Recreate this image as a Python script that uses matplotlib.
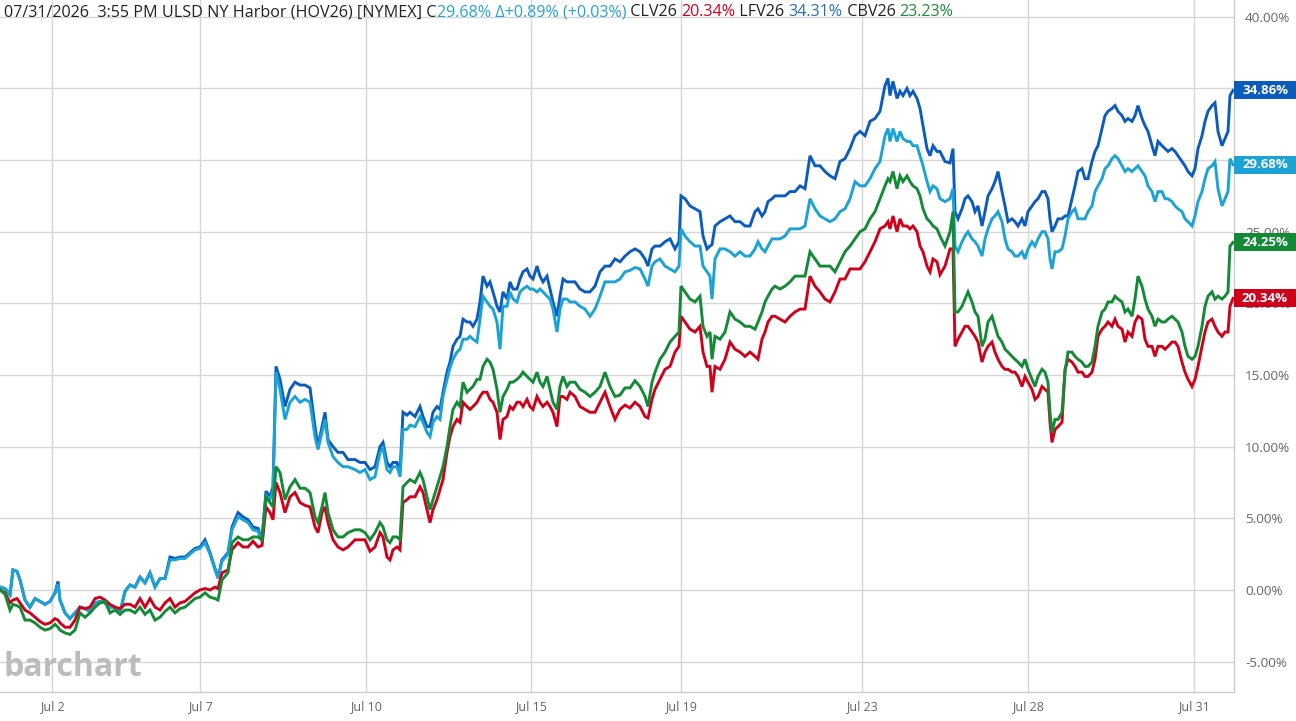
import matplotlib
matplotlib.use("Agg")
import matplotlib.pyplot as plt
from matplotlib.offsetbox import TextArea, HPacker, AnchoredOffsetbox
from matplotlib.patches import Rectangle

plt.rcParams['font.family'] = ['Open Sans', 'DejaVu Sans']

# intraday bar number (x) and percent change of each contract
bars = [
    0, 5, 10, 13, 17, 20, 25, 30, 35, 40,
    45, 50, 55, 58, 60, 65, 70, 75, 80, 85,
    90, 95, 100, 105, 110, 115, 120, 125, 130, 135,
    140, 145, 150, 155, 160, 165, 170, 175, 180, 185,
    190, 195, 200, 205, 210, 215, 218, 222, 228, 232,
    238, 243, 248, 253, 258, 262, 266, 270, 273, 276,
    280, 285, 290, 295, 300, 305, 310, 315, 318, 322,
    325, 328, 333, 338, 343, 348, 355, 360, 365, 370,
    375, 380, 383, 387, 390, 393, 397, 400, 403, 407,
    410, 415, 420, 423, 427, 430, 433, 437, 440, 443,
    447, 450, 453, 457, 460, 463, 467, 470, 473, 477,
    480, 483, 487, 490, 493, 497, 500, 503, 507, 510,
    513, 517, 520, 523, 527, 530, 533, 537, 540, 543,
    547, 550, 553, 557, 560, 563, 567, 570, 575, 580,
    585, 590, 595, 600, 605, 610, 615, 620, 625, 630,
    635, 640, 645, 648, 652, 655, 660, 665, 670, 675,
    679, 681, 685, 690, 695, 700, 703, 707, 710, 712,
    715, 720, 725, 730, 735, 740, 745, 750, 755, 758,
    762, 765, 768, 772, 775, 780, 785, 790, 795, 800,
    805, 810, 815, 820, 825, 830, 835, 840, 845, 850,
    855, 860, 865, 870, 875, 880, 885, 888, 890, 893,
    897, 900, 903, 907, 910, 913, 917, 920, 923, 927,
    930, 933, 937, 940, 945, 950, 953, 955, 958, 962,
    965, 968, 972, 975, 978, 982, 985, 988, 992, 995,
    998, 1002, 1005, 1008, 1012, 1015, 1018, 1022, 1025, 1028,
    1032, 1035, 1038, 1042, 1045, 1048, 1050, 1052, 1055, 1058,
    1062, 1065, 1068, 1072, 1075, 1078, 1082, 1085, 1088, 1092,
    1095, 1098, 1102, 1105, 1108, 1112, 1115, 1118, 1122, 1125,
    1128, 1132, 1135, 1138, 1142, 1145, 1148, 1152, 1155, 1158,
    1162, 1165, 1168, 1172, 1175, 1178, 1182, 1185, 1188, 1192,
    1195, 1198, 1202, 1205, 1208, 1212, 1215, 1218, 1222, 1225,
    1228, 1230, 1233,
]

lfv = [
    0.2, 0.1, -0.35, 1.4, 1.3, 0.7, -0.7, -1.2, -0.6, -0.8,
    -1.0, -0.8, -0.2, 0.6, -0.7, -1.6, -2.0, -1.6, -1.2, -1.3,
    -1.5, -0.9, -0.8, -0.9, -1.2, -1.2, -1.6, -0.1, 0.35, 0.2,
    0.9, 0.5, 1.2, 0.2, 0.8, 0.8, 2.3, 2.2, 2.3, 2.3,
    2.6, 2.9, 3.0, 3.5, 2.6, 1.5, 0.9, 2.1, 2.6, 4.4,
    5.4, 5.1, 4.9, 4.4, 4.3, 3.5, 6.9, 6.5, 7.2, 15.6,
    14.7, 12.8, 14.0, 14.5, 14.3, 14.3, 14.1, 11.4, 10.0, 11.4,
    12.4, 10.5, 10.0, 9.6, 9.6, 9.1, 9.1, 8.9, 8.9, 8.4,
    8.6, 10.0, 10.3, 8.9, 8.6, 8.9, 8.9, 8.2, 12.4, 12.2,
    12.4, 12.1, 12.8, 12.1, 11.4, 11.4, 12.4, 12.8, 12.6, 13.8,
    15.2, 15.9, 17.0, 17.5, 17.7, 18.9, 18.7, 18.7, 18.4, 18.9,
    20.1, 21.9, 21.2, 21.5, 20.8, 19.8, 19.4, 20.8, 20.3, 21.5,
    21.0, 21.0, 21.7, 22.2, 22.4, 21.9, 21.7, 22.6, 21.9, 21.5,
    21.9, 21.0, 20.1, 19.1, 20.5, 21.7, 21.5, 21.5, 21.5, 21.0,
    20.8, 20.8, 21.2, 22.2, 22.6, 22.6, 23.1, 22.9, 23.3, 23.6,
    23.8, 23.6, 23.1, 22.6, 23.8, 24.0, 24.0, 24.3, 24.5, 23.8,
    24.3, 27.5, 27.3, 26.8, 26.6, 26.4, 24.7, 23.8, 24.0, 24.1,
    25.4, 25.7, 25.9, 26.1, 25.7, 25.7, 25.4, 25.4, 26.4, 26.6,
    26.1, 26.4, 27.1, 27.3, 27.5, 27.5, 27.5, 27.8, 27.8, 28.2,
    28.0, 30.3, 29.6, 29.6, 29.2, 28.9, 28.7, 29.9, 30.1, 30.8,
    31.7, 32.0, 31.7, 32.7, 32.9, 33.4, 35.2, 35.7, 34.5, 35.5,
    34.3, 34.8, 34.5, 35.0, 34.5, 34.8, 34.3, 33.6, 32.4, 30.8,
    30.3, 31.0, 30.6, 30.6, 29.9, 29.8, 30.8, 26.4, 25.9, 26.6,
    27.3, 27.5, 27.1, 26.4, 26.8, 25.4, 26.4, 27.5, 28.0, 28.5,
    29.2, 27.8, 26.8, 25.7, 25.9, 25.7, 25.4, 25.9, 25.4, 26.4,
    26.8, 27.1, 27.3, 27.8, 27.8, 27.3, 25.9, 25.0, 25.4, 25.9,
    25.9, 26.1, 26.1, 27.3, 28.2, 29.2, 29.4, 28.7, 28.7, 29.9,
    30.6, 31.0, 32.2, 33.1, 33.4, 33.6, 33.8, 33.4, 33.1, 32.7,
    32.9, 32.7, 33.1, 33.8, 32.9, 32.4, 32.0, 31.0, 30.3, 31.3,
    31.0, 30.8, 30.6, 30.8, 30.6, 30.3, 29.9, 29.6, 29.2, 28.9,
    29.4, 30.8, 31.7, 32.7, 33.4, 33.8, 34.0, 32.0, 31.0, 31.5,
    32.0, 34.5, 34.86,
]

hov = [
    0.2, 0.1, -0.35, 1.4, 1.3, 0.7, -0.7, -1.2, -0.6, -0.8,
    -1.0, -0.8, -0.2, 0.4, -0.7, -1.6, -2.0, -1.6, -1.2, -1.3,
    -1.5, -0.9, -0.8, -0.9, -1.2, -1.2, -1.6, -0.1, 0.35, 0.2,
    0.9, 0.5, 1.2, 0.2, 0.8, 0.8, 2.1, 2.1, 2.2, 2.2,
    2.5, 2.8, 2.9, 3.3, 2.5, 1.4, 0.8, 2.0, 2.5, 4.2,
    5.1, 4.9, 4.7, 4.2, 4.1, 3.4, 6.6, 6.3, 6.9, 15.2,
    14.0, 11.9, 13.1, 13.5, 13.1, 13.3, 13.1, 10.7, 9.8, 11.0,
    11.9, 10.3, 9.3, 8.9, 8.6, 8.6, 8.4, 8.2, 8.4, 7.7,
    7.9, 9.6, 9.9, 8.4, 8.2, 8.6, 8.6, 7.9, 11.2, 11.2,
    11.5, 11.4, 12.1, 11.7, 11.0, 10.7, 11.7, 12.1, 11.9, 13.5,
    14.7, 15.5, 16.1, 16.6, 16.8, 17.5, 17.5, 17.7, 17.5, 17.3,
    18.9, 20.5, 20.1, 19.8, 19.6, 18.7, 16.8, 19.8, 19.8, 20.8,
    20.3, 20.1, 20.8, 21.0, 21.2, 21.0, 21.0, 20.8, 21.0, 20.8,
    20.5, 20.3, 19.6, 18.0, 19.6, 20.3, 20.3, 20.1, 20.1, 19.8,
    19.6, 19.1, 19.6, 20.5, 21.5, 21.5, 21.5, 21.7, 22.2, 22.3,
    22.5, 22.4, 21.7, 21.2, 22.6, 22.9, 23.1, 22.6, 22.4, 22.2,
    22.6, 25.2, 24.7, 24.3, 24.0, 24.0, 22.6, 22.2, 21.9, 20.3,
    23.1, 23.8, 23.8, 23.6, 23.3, 23.6, 23.3, 23.3, 23.8, 24.3,
    23.8, 23.6, 24.0, 24.5, 24.5, 24.5, 24.7, 25.2, 25.2, 25.2,
    25.4, 27.3, 26.6, 26.1, 25.9, 25.7, 25.9, 26.4, 26.6, 27.3,
    28.5, 28.2, 28.2, 28.7, 29.4, 29.9, 31.7, 32.2, 31.3, 32.2,
    31.3, 32.0, 31.5, 31.3, 31.3, 31.0, 31.0, 30.3, 29.6, 28.5,
    27.8, 28.2, 28.0, 27.3, 27.1, 27.3, 28.0, 24.0, 23.6, 24.3,
    24.7, 25.0, 24.5, 24.3, 24.0, 23.3, 24.5, 25.2, 25.9, 26.1,
    26.4, 25.7, 24.5, 23.8, 23.6, 23.3, 23.3, 23.6, 23.1, 23.8,
    24.3, 24.0, 24.5, 25.0, 25.0, 24.5, 23.1, 22.4, 23.6, 23.6,
    23.8, 24.7, 25.9, 26.4, 26.6, 25.9, 25.9, 25.9, 26.4, 26.8,
    27.8, 28.2, 28.7, 29.4, 29.6, 30.1, 30.3, 30.1, 29.6, 29.2,
    29.4, 29.2, 29.4, 29.6, 29.2, 28.9, 28.2, 27.8, 27.1, 27.8,
    27.8, 27.3, 27.3, 27.1, 26.8, 26.6, 26.4, 25.9, 25.7, 25.4,
    26.1, 27.1, 27.8, 28.7, 29.4, 29.6, 29.9, 28.0, 26.8, 27.3,
    27.8, 30.1, 29.68,
]

clv = [
    0.0, -0.2, -0.9, -0.7, -0.6, -0.9, -1.4, -1.6, -1.9, -2.2,
    -2.4, -2.3, -2.0, -2.1, -2.3, -2.6, -2.6, -2.1, -1.2, -1.3,
    -1.2, -0.6, -0.5, -0.7, -1.0, -1.2, -1.3, -1.0, -1.0, -1.2,
    -0.6, -1.2, -0.6, -1.2, -1.4, -0.9, -0.6, -1.2, -0.9, -0.8,
    -0.5, -0.2, 0.0, 0.1, 0.0, 0.2, 0.1, 1.2, 1.4, 2.8,
    3.3, 3.0, 3.0, 3.4, 3.0, 3.1, 5.8, 5.4, 4.9, 7.5,
    6.8, 5.4, 6.5, 6.8, 6.1, 5.9, 5.8, 4.4, 4.0, 5.4,
    5.8, 4.7, 3.5, 3.0, 2.8, 3.0, 3.5, 3.5, 3.5, 2.7,
    3.0, 4.0, 3.7, 2.3, 2.1, 2.8, 3.0, 2.8, 6.1, 6.3,
    6.5, 6.5, 7.2, 6.8, 5.6, 4.7, 5.6, 6.3, 7.0, 7.7,
    9.6, 10.7, 11.4, 11.9, 11.7, 13.1, 12.8, 12.6, 12.8, 13.1,
    13.5, 13.8, 13.8, 13.3, 13.1, 12.4, 10.5, 11.9, 12.1, 12.8,
    12.6, 13.1, 13.1, 12.8, 13.3, 12.8, 12.6, 13.5, 13.1, 12.8,
    13.1, 12.8, 12.4, 11.4, 13.5, 13.5, 13.3, 13.8, 13.5, 12.8,
    12.6, 12.4, 12.4, 13.1, 13.8, 12.8, 11.9, 12.6, 12.9, 12.7,
    13.1, 12.8, 12.1, 12.0, 13.3, 14.0, 14.7, 15.4, 15.6, 16.6,
    17.0, 19.1, 18.7, 18.2, 18.0, 18.4, 16.6, 15.6, 15.6, 13.8,
    15.6, 15.4, 16.1, 17.3, 16.8, 16.6, 16.3, 16.6, 16.3, 16.1,
    17.5, 18.0, 18.7, 19.1, 19.1, 18.9, 18.7, 19.1, 19.4, 19.6,
    19.6, 21.9, 21.2, 20.8, 20.3, 20.1, 20.8, 21.7, 21.7, 22.4,
    22.4, 22.4, 22.9, 23.6, 24.3, 25.2, 25.4, 25.7, 25.2, 26.1,
    25.0, 25.9, 25.4, 25.4, 25.2, 25.4, 25.0, 24.0, 23.6, 22.6,
    22.2, 23.1, 22.9, 22.0, 22.6, 23.8, 23.8, 17.0, 17.5, 18.0,
    18.4, 18.4, 18.0, 17.7, 17.3, 15.9, 16.6, 17.0, 17.3, 16.6,
    16.1, 15.6, 15.4, 15.4, 15.2, 15.2, 14.9, 14.2, 14.9, 14.5,
    14.0, 13.3, 13.5, 14.2, 14.0, 13.8, 11.7, 10.3, 11.2, 11.4,
    11.7, 15.4, 16.1, 15.9, 15.6, 15.2, 15.2, 14.9, 14.9, 15.2,
    16.1, 17.7, 18.2, 18.4, 18.7, 18.4, 18.9, 18.4, 18.2, 17.3,
    18.0, 17.7, 18.7, 19.1, 18.9, 17.5, 17.0, 17.0, 16.3, 17.0,
    17.0, 16.8, 17.0, 17.3, 17.3, 17.0, 15.9, 15.2, 14.7, 14.2,
    14.7, 15.6, 17.0, 18.0, 18.7, 18.9, 18.4, 18.0, 17.7, 18.0,
    18.0, 19.8, 20.34,
]

cbv = [
    0.0, -0.3, -1.4, -1.0, -1.1, -1.2, -2.1, -2.1, -2.3, -2.6,
    -2.8, -2.7, -2.4, -2.6, -2.8, -3.0, -3.1, -2.8, -1.6, -1.9,
    -1.6, -1.2, -0.9, -0.8, -1.6, -1.4, -1.7, -1.4, -1.4, -1.6,
    -1.2, -1.7, -1.4, -2.1, -1.9, -1.5, -1.2, -1.6, -1.3, -1.2,
    -0.9, -0.6, -0.5, -0.2, -0.5, -0.6, -0.7, 0.7, 1.2, 3.3,
    3.7, 3.5, 3.5, 3.7, 3.7, 3.5, 6.5, 6.1, 5.8, 8.6,
    8.2, 6.3, 7.2, 7.7, 7.1, 7.1, 6.8, 5.1, 4.7, 5.8,
    6.8, 5.4, 4.2, 3.7, 3.7, 4.0, 4.2, 4.2, 4.0, 3.5,
    4.0, 4.7, 4.4, 3.5, 3.3, 3.7, 3.7, 3.5, 7.2, 7.5,
    7.7, 7.5, 8.2, 7.7, 6.5, 5.6, 6.3, 7.2, 7.9, 8.6,
    10.0, 11.4, 12.6, 13.1, 12.8, 14.5, 13.8, 14.0, 14.2, 14.7,
    14.7, 15.6, 16.1, 15.9, 15.4, 14.0, 12.4, 13.5, 14.0, 14.5,
    14.5, 14.7, 14.9, 15.2, 14.9, 14.7, 14.5, 15.2, 14.5, 14.2,
    14.9, 14.0, 13.1, 12.6, 14.2, 14.9, 14.2, 14.5, 14.5, 14.0,
    13.8, 13.5, 13.8, 14.2, 15.2, 14.2, 13.5, 13.6, 14.1, 14.1,
    14.6, 14.2, 13.5, 12.8, 14.5, 15.2, 16.1, 16.6, 17.3, 17.7,
    18.0, 21.2, 20.8, 20.3, 20.1, 20.5, 18.4, 17.7, 18.0, 16.1,
    17.7, 17.5, 18.0, 19.4, 18.9, 18.7, 18.4, 18.4, 18.2, 18.7,
    19.4, 20.1, 20.5, 21.0, 21.2, 21.0, 21.2, 21.5, 21.9, 21.9,
    21.9, 23.6, 23.1, 22.6, 22.6, 22.6, 22.2, 22.9, 23.6, 24.0,
    24.5, 25.0, 25.2, 25.9, 26.4, 27.3, 28.2, 28.7, 28.5, 29.2,
    28.0, 28.9, 28.5, 28.9, 28.5, 28.2, 28.0, 27.5, 26.6, 25.9,
    25.7, 25.4, 25.2, 24.7, 24.0, 25.0, 26.4, 19.4, 19.4, 19.8,
    20.3, 20.8, 20.1, 19.4, 19.1, 17.0, 17.5, 18.7, 19.1, 18.4,
    17.7, 17.3, 16.8, 16.6, 16.3, 16.1, 15.9, 15.6, 16.1, 15.4,
    14.7, 14.2, 14.9, 15.4, 15.2, 14.5, 12.4, 11.0, 11.9, 11.9,
    12.4, 15.2, 16.6, 16.6, 16.3, 16.1, 15.9, 15.6, 15.6, 15.9,
    17.0, 18.4, 19.4, 19.6, 20.1, 20.1, 20.5, 20.3, 20.1, 19.4,
    19.6, 19.1, 20.3, 21.9, 21.2, 20.3, 19.6, 19.1, 18.4, 18.9,
    18.7, 18.7, 18.9, 19.1, 18.9, 18.7, 18.0, 17.0, 16.3, 16.1,
    16.3, 17.0, 18.4, 19.8, 20.5, 20.8, 20.3, 20.5, 20.3, 20.5,
    20.8, 24.0, 24.25,
]

tick_bars = [52, 200, 366, 531, 681, 862, 1028, 1194]
tick_labels = ['Jul 2', 'Jul 7', 'Jul 10', 'Jul 15', 'Jul 19', 'Jul 23', 'Jul 28', 'Jul 31']
y_ticks = [-5, 0, 5, 10, 15, 20, 25, 30, 35, 40]

# header quote values
header_parts = [
    ('07/31/2026  3:55 PM ULSD NY Harbor (HOV26) [NYMEX] C', '#222222'),
    ('29.68% \u0394+0.89% (+0.03%)', '#27a4d6'),
    (' CLV26 ', '#222222'),
    ('20.34%', '#d0021b'),
    (' LFV26 ', '#222222'),
    ('34.31%', '#2a6ebb'),
    (' CBV26 ', '#222222'),
    ('23.23%', '#1e8c3a'),
]

series = [
    (lfv, '#0b5cbd'),
    (hov, '#1aa3d4'),
    (clv, '#d0021b'),
    (cbv, '#138a36'),
]

for s, _ in series:
    assert len(s) == len(bars)

fig = plt.figure(figsize=(12.96, 7.21), dpi=100)
ax = fig.add_axes([0.0, 29 / 721, 1234 / 1296, 692 / 721])

for vals, col in series:
    ax.plot(bars, vals, color=col, lw=2.1, solid_joinstyle='miter', zorder=3)

ax.set_xlim(0, 1234)
ax.set_ylim(-7.12, 41.17)

ax.set_xticks(tick_bars)
ax.set_xticklabels(tick_labels)
ax.set_yticks(y_ticks)
ax.set_yticklabels([f'{v:.2f}%' for v in y_ticks])
ax.yaxis.tick_right()
ax.tick_params(axis='both', length=0, colors='#666666', labelsize=9)
ax.tick_params(axis='y', pad=8, labelsize=9.7)
ax.tick_params(axis='x', pad=6)
ax.grid(True, color='#d6d6d6', lw=1)
ax.set_axisbelow(True)
for side in ['left', 'top']:
    ax.spines[side].set_visible(False)
for side in ['right', 'bottom']:
    ax.spines[side].set_color('#cccccc')
    ax.spines[side].set_linewidth(1)

# last-value labels on the right edge (they sit over the 20/25/30% ticks, as in the source)
box_w = 62 / 1234
box_h = 18 / 692 * (41.17 + 7.12)
ytr = ax.get_yaxis_transform()
for vals, col in series:
    last = vals[-1]
    ax.add_patch(Rectangle((1.0, last - box_h / 2), box_w, box_h, transform=ytr,
                           facecolor=col, edgecolor='none', clip_on=False, zorder=5))
    ax.text(1.0 + box_w / 2, last, f'{last:.2f}%', transform=ytr, ha='center', va='center',
            color='white', fontsize=9.5, fontweight='bold', clip_on=False, zorder=6)

# multi-coloured header line
areas = [TextArea(t, textprops=dict(color=c, fontsize=11.6)) for t, c in header_parts]
pack = HPacker(children=areas, align='baseline', pad=0, sep=0)
anchored = AnchoredOffsetbox(loc='upper left', child=pack, frameon=False, pad=0.1,
                             borderpad=0.2, bbox_to_anchor=(0.0, 1.0),
                             bbox_transform=ax.transAxes)
ax.add_artist(anchored)

# watermark
ax.text(0.003, 0.012, 'barchart', transform=ax.transAxes, fontsize=23, fontweight='bold',
        color='#bcbcbc', ha='left', va='bottom', zorder=2)

fig.savefig('out.png', dpi=100)
